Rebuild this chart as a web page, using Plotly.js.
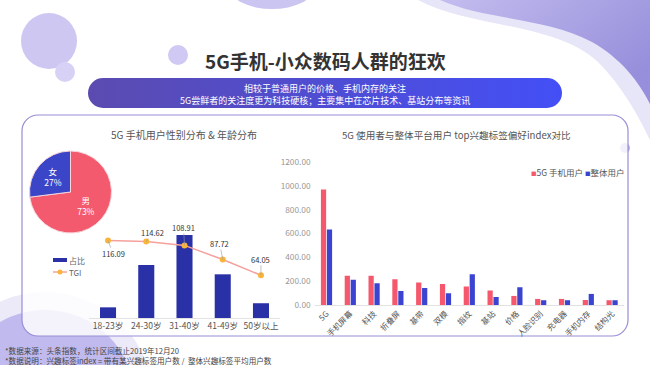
<!DOCTYPE html>
<html>
<head>
<meta charset="utf-8">
<script src="https://cdn.plot.ly/plotly-3.0.1.min.js"></script>
<style>html,body{margin:0;padding:0;background:#fff;}#chart{width:650px;height:365px;}</style>
</head>
<body>
<div id="chart"></div>
<script>
// ---- data ----
const genderLabels = ['女', '男'];
const genderShare = [27, 73];
const ageCats = ['18-23岁', '24-30岁', '31-40岁', '41-49岁', '50岁以上'];
const ageShare = [5.2, 25.8, 40.5, 21.3, 7.2];
const tgi = [116.09, 114.62, 108.91, 87.72, 64.05];
const tagCats = ['5G', '手机屏幕', '科技', '折叠屏', '基带', '双模', '指纹', '基站', '价格', '人脸识别', '充电器', '手机内存', '结构光'];
const user5g = [970, 245, 245, 217, 188, 177, 155, 121, 76, 51, 51, 42, 40];
const userAll = [633, 211, 183, 118, 143, 99, 259, 67, 149, 40, 40, 93, 40];
const indexTicks = [0, 200, 400, 600, 800, 1000, 1200];
const seriesNames = ['5G 手机用户', '整体用户'];
const ageSeriesNames = ['占比', 'TGI'];

// ---- style ----
const FONT = '"Noto Sans CJK SC", "Noto Sans", sans-serif';
const W = 650, H = 365;
const px = v => v / W;
const py = v => 1 - v / H;
const tgiLabelOffsets = [[5, 13], [6, -9], [-1, -18], [-3, -16], [0, -16]];
const C_RED = '#f5586c', C_BLUE = '#3a44d0', C_NAVY = '#2a31a6', C_LINE = '#f6a09c', C_DOT = '#f9b43a';

const svg = `<svg xmlns='http://www.w3.org/2000/svg' width='650' height='365' viewBox='0 0 650 365'>
<defs>
<linearGradient id='g1' x1='0' x2='1' y1='0' y2='0'><stop offset='0' stop-color='#5b4bb0'/><stop offset='1' stop-color='#434ff6'/></linearGradient>
<linearGradient id='g2' x1='0' x2='1' y1='0' y2='0.6'><stop offset='0' stop-color='#c3bdef'/><stop offset='1' stop-color='#978fdb'/></linearGradient>
</defs>
<path d='M 418 0 C 470 28, 555 22, 598 62 C 622 86, 638 115, 650 140 L 650 0 Z' fill='#e7e5f8'/>
<path d='M 440 0 C 485 20, 548 18, 592 42 C 620 58, 638 80, 650 104 L 650 0 Z' fill='url(#g2)'/>
<ellipse cx='272' cy='-12' rx='42' ry='21' fill='#cbc5f2'/>
<circle cx='49' cy='41' r='28' fill='#cdc7f2'/>
<circle cx='65' cy='72' r='10' fill='#d7d2f5'/>
<circle cx='178' cy='55' r='10' fill='#cfc9f3'/>
<circle cx='625' cy='148' r='5' fill='#b9b1ea'/>
<circle cx='45' cy='400' r='108' fill='#eceaf9'/>
<circle cx='45' cy='400' r='90' fill='#c1baee'/>
<rect x='22' y='115' width='606' height='221' rx='16' fill='white' fill-opacity='0.82' stroke='#978fd6' stroke-width='1.2'/>
<rect x='88' y='78' width='474' height='30' rx='15' fill='url(#g1)'/>
</svg>`;

const traces = [
  {
    // 男 first so that 女 sits from 12 o'clock counterclockwise, as in the reference
    type: 'pie', labels: genderLabels.slice().reverse(), values: genderShare.slice().reverse(), sort: false,
    direction: 'counterclockwise', rotation: 0,
    marker: { colors: ['#f45a6e', '#3a45c8'], line: { color: '#f6d5db', width: 1 } },
    textinfo: 'label+percent', textposition: 'inside', insidetextorientation: 'horizontal',
    textfont: { color: '#fff', size: 8.5, family: FONT }, showlegend: false, hoverinfo: 'skip',
    domain: { x: [px(29.5), px(111.5)], y: [py(233), py(151)] }
  },
  {
    type: 'bar', name: ageSeriesNames[0], x: ageCats, y: ageShare, xaxis: 'x', yaxis: 'y',
    marker: { color: C_NAVY }, width: 0.42, showlegend: false
  },
  {
    type: 'scatter', mode: 'lines+markers', name: ageSeriesNames[1], x: ageCats, y: tgi, xaxis: 'x', yaxis: 'y2',
    line: { color: C_LINE, width: 1.5 }, marker: { color: C_DOT, size: 6 }, showlegend: false
  },
  {
    type: 'bar', name: seriesNames[0], x: tagCats, y: user5g, xaxis: 'x2', yaxis: 'y3',
    marker: { color: C_RED }, showlegend: false
  },
  {
    type: 'bar', name: seriesNames[1], x: tagCats, y: userAll, xaxis: 'x2', yaxis: 'y3',
    marker: { color: C_BLUE }, showlegend: false
  }
];

const annotations = [
  { text: '<b>5G手机-小众数码人群的狂欢</b>', x: px(326), y: py(60), xref: 'paper', yref: 'paper', showarrow: false,
    font: { size: 19, color: '#333', family: FONT }, xanchor: 'center', yanchor: 'middle' },
  { text: '相较于普通用户的价格、手机内存的关注<br>5G尝鲜者的关注度更为科技硬核；主要集中在芯片技术、基站分布等资讯',
    x: px(325), y: py(94), xref: 'paper', yref: 'paper', showarrow: false,
    font: { size: 9, color: '#fff', family: FONT }, xanchor: 'center', yanchor: 'middle', borderpad: 0 },
  { text: '5G 手机用户性别分布 &amp; 年龄分布', x: px(184), y: py(135), xref: 'paper', yref: 'paper', showarrow: false,
    font: { size: 10, color: '#555', family: FONT }, xanchor: 'center', yanchor: 'middle' },
  { text: '5G 使用者与整体平台用户 top兴趣标签偏好index对比', x: px(456), y: py(135), xref: 'paper', yref: 'paper', showarrow: false,
    font: { size: 9.6, color: '#555', family: FONT }, xanchor: 'center', yanchor: 'middle' },
  { text: '*数据来源：头条指数，统计区间截止2019年12月20<br>*数据说明：兴趣标签index = 带有某兴趣标签用户数 /  整体兴趣标签平均用户数',
    x: px(4), y: py(355.5), xref: 'paper', yref: 'paper', showarrow: false, align: 'left',
    font: { size: 7.6, color: '#444', family: FONT }, xanchor: 'left', yanchor: 'middle', borderpad: 0 },
  // right legend
  { text: `<span style="color:${C_RED};font-size:5.5px">■</span>${seriesNames[0]} <span style="color:${C_BLUE};font-size:5.5px">■</span>${seriesNames[1]}`,
    x: px(529.5), y: py(172), xref: 'paper', yref: 'paper', showarrow: false,
    font: { size: 8.5, color: '#555', family: FONT }, xanchor: 'left', yanchor: 'middle', borderpad: 0 },
  // left legend texts
  { text: ageSeriesNames[0], x: px(68), y: py(260), xref: 'paper', yref: 'paper', showarrow: false,
    font: { size: 8, color: '#666', family: FONT }, xanchor: 'left', yanchor: 'middle', borderpad: 0 },
  { text: ageSeriesNames[1], x: px(68), y: py(272), xref: 'paper', yref: 'paper', showarrow: false,
    font: { size: 8, color: '#666', family: FONT }, xanchor: 'left', yanchor: 'middle', borderpad: 0 }
];
tgi.forEach((v, i) => {
  annotations.push({
    x: ageCats[i], y: v, xref: 'x', yref: 'y2', text: v.toFixed(2),
    showarrow: true, arrowhead: 0, arrowwidth: 0.6, arrowcolor: '#999',
    ax: tgiLabelOffsets[i][0], ay: tgiLabelOffsets[i][1], standoff: 0, borderpad: 0,
    font: { size: 7.5, color: '#333', family: FONT }
  });
});

// legend keys for the left chart
const shapes = [
  { type: 'rect', xref: 'paper', yref: 'paper', x0: px(53), x1: px(67), y0: py(262), y1: py(258),
    fillcolor: C_NAVY, line: { width: 0 } },
  { type: 'line', xref: 'paper', yref: 'paper', x0: px(53), x1: px(67), y0: py(272), y1: py(272),
    line: { color: C_LINE, width: 1.5 } },
  { type: 'circle', xref: 'paper', yref: 'paper', x0: px(57.5), x1: px(62.5), y0: py(274.5), y1: py(269.5),
    fillcolor: C_DOT, line: { width: 0 } }
];

const layout = {
  width: W, height: H, autosize: false,
  margin: { l: 0, r: 0, t: 0, b: 0, pad: 0 },
  paper_bgcolor: '#fff', plot_bgcolor: 'rgba(0,0,0,0)',
  font: { family: FONT, color: '#555' },
  barmode: 'group', bargap: 0.5, bargroupgap: 0.12,
  showlegend: false,
  images: [{ source: 'data:image/svg+xml;charset=utf-8,' + encodeURIComponent(svg), xref: 'paper', yref: 'paper',
    x: 0, y: 1, sizex: 1, sizey: 1, xanchor: 'left', yanchor: 'top', sizing: 'stretch', layer: 'below' }],
  xaxis: { domain: [px(88.9), px(280.1)], anchor: 'y', showline: true, linecolor: '#e2e2e2', linewidth: 1,
    ticks: '', tickangle: 0, showgrid: false, zeroline: false, tickfont: { size: 8.5, color: '#555' }, automargin: false },
  yaxis: { domain: [py(318), py(230)], range: [0, 42.9], visible: false, showgrid: false, zeroline: false },
  yaxis2: { overlaying: 'y', range: [0, 132], visible: false, showgrid: false, zeroline: false },
  xaxis2: { domain: [px(314.6), px(624)], anchor: 'y3', showline: true, linecolor: '#e2e2e2', linewidth: 1,
    ticks: '', showgrid: false, zeroline: false, tickangle: -45, tickfont: { size: 8, color: '#555' }, automargin: false },
  yaxis3: { domain: [py(305), py(155)], anchor: 'x2', range: [0, 1258.7], tickvals: indexTicks,
    tickformat: '.2f', ticksuffix: '%', showgrid: false, zeroline: false, showline: false, ticks: '',
    ticklabelstandoff: 3, tickfont: { size: 8.3, color: '#999' }, automargin: false },
  annotations: annotations,
  shapes: shapes
};

Plotly.newPlot('chart', traces, layout, { displayModeBar: false, staticPlot: true });
</script>
</body>
</html>
